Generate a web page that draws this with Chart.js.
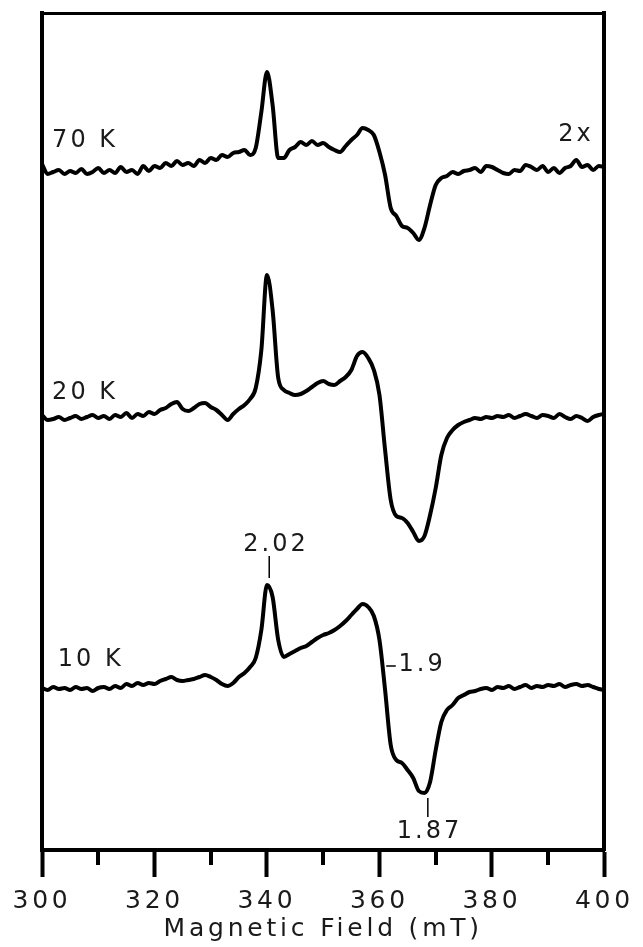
<!DOCTYPE html>
<html>
<head>
<meta charset="utf-8">
<script src="https://cdn.jsdelivr.net/npm/chart.js@4/dist/chart.umd.min.js"></script>
<style>
  html, body { margin: 0; padding: 0; background: #fff; }
  canvas { display: block; }
</style>
</head>
<body>
<canvas id="epr-chart" width="643" height="947"></canvas>
<script>
// Champ magnétique (mT), un point par mT
const champ = Array.from({length: 101}, (_, i) => 300 + i);

// Intensités (u.a., 0 = ligne de base)
const signal70K = [
    6, -4, -2, 0, -4, -1, -3, 1, -4, -2,
    2, -3, 0, -3, 3, -2, 0, -4, 4, -1,
    4, 2, 7, 4, 9, 5, 7, 4, 10, 7,
    12, 10, 15, 13, 17, 18, 20, 15, 22, 58,
    98, 65, 12, 12, 20, 23, 28, 25, 29, 25,
    27, 23, 20, 18, 24, 30, 35, 42, 40, 35,
    18, -5, -38, -46, -56, -58, -63, -70, -58, -35,
    -15, -8, -6, -2, -4, -1, 0, 2, -2, 4,
    3, 0, -3, -4, 0, -1, 5, 3, 0, 4,
    -2, 2, -3, 2, 4, 10, 3, 5, 0, 4,
    3
];
const signal20K = [
    2, -3, -2, 0, -3, -1, 1, -2, 0, 2,
    -1, 1, -2, 2, 0, 4, -1, 3, 1, 5,
    3, 7, 9, 13, 15, 8, 6, 9, 13, 14,
    10, 7, 2, -3, 3, 8, 12, 18, 29, 67,
    142, 107, 39, 27, 24, 22, 23, 26, 30, 34,
    36, 33, 32, 36, 40, 47, 61, 65, 59, 47,
    22, -33, -83, -99, -101, -106, -115, -124, -119, -98,
    -71, -38, -21, -13, -8, -5, -3, -1, -2, 0,
    -1, 1, 0, 2, -1, 1, 3, 1, -1, 2,
    1, -1, 3, 0, -2, 1, -1, -4, 0, 2,
    3
];
const signal10K = [
    0, -2, 1, -1, 0, -2, 1, -1, 0, -3,
    0, 1, -1, 2, 0, 4, 2, 5, 3, 5,
    4, 7, 9, 11, 8, 7, 8, 9, 11, 13,
    11, 8, 4, 2, 5, 11, 15, 21, 30, 58,
    103, 91, 48, 31, 34, 37, 40, 42, 46, 50,
    53, 55, 58, 62, 67, 73, 79, 84, 81, 72,
    48, -2, -57, -72, -75, -82, -90, -103, -105, -94,
    -62, -34, -22, -17, -10, -7, -4, -3, -1, 0,
    -2, 1, 0, 2, -1, 1, 3, 0, 2, 1,
    3, 2, 4, 1, 3, 4, 2, 3, 1, -1,
    -2
];

// Décalage vertical de chaque spectre (u.a.)
const decalages = [680, 433, 162];
const series = [signal70K, signal20K, signal10K];

// Graduations de l'axe
const graduationsMajeures = [300, 320, 340, 360, 380, 400];
const graduationsMineures = [310, 330, 350, 370, 390];

// Étiquettes et repères
const etiquettes = [
    {texte: '70 K', x: 301.8, y: 709, align: 'left'},
    {texte: '20 K', x: 301.8, y: 457, align: 'left'},
    {texte: '10 K', x: 302.8, y: 190, align: 'left'},
    {texte: '2x', x: 391.8, y: 715, align: 'left'},
    {texte: '2.02', x: 341.6, y: 305, align: 'center'},
    {texte: '1.9', x: 363.4, y: 185, align: 'left'},
    {texte: '1.87', x: 368.9, y: 18, align: 'center'}
];
const reperes = [
    {x1: 340.4, y1: 294, x2: 340.4, y2: 272},
    {x1: 361.2, y1: 184, x2: 362.9, y2: 184},
    {x1: 368.6, y1: 52, x2: 368.6, y2: 33}
];

const POLICE = 'DejaVu Sans, sans-serif';
const ESPACEMENT_AXE = '3.8px';
const ESPACEMENT_TEXTE = '3px';

// Espacement des lettres (la police de la figure est élargie)
const espacementPlugin = {
    id: 'espacement',
    beforeLayout(chart) { chart.ctx.letterSpacing = ESPACEMENT_AXE; },
    beforeDraw(chart) { chart.ctx.letterSpacing = ESPACEMENT_AXE; }
};

// Graduations mineures et annotations
const annotationsPlugin = {
    id: 'annotations',
    afterDraw(chart) {
        const ctx = chart.ctx;
        const xs = chart.scales.x;
        const ys = chart.scales.y;
        const bas = chart.chartArea.bottom;
        ctx.save();
        ctx.strokeStyle = '#000';
        ctx.lineWidth = 4;
        graduationsMineures.forEach(v => {
            const px = Math.round(xs.getPixelForValue(v));
            ctx.beginPath();
            ctx.moveTo(px, bas);
            ctx.lineTo(px, bas + 15);
            ctx.stroke();
        });
        ctx.lineWidth = 1.5;
        reperes.forEach(r => {
            ctx.beginPath();
            ctx.moveTo(xs.getPixelForValue(r.x1), ys.getPixelForValue(r.y1));
            ctx.lineTo(xs.getPixelForValue(r.x2), ys.getPixelForValue(r.y2));
            ctx.stroke();
        });
        ctx.letterSpacing = ESPACEMENT_TEXTE;
        ctx.font = '24px ' + POLICE;
        ctx.fillStyle = '#1a1a1a';
        ctx.textBaseline = 'middle';
        etiquettes.forEach(e => {
            ctx.textAlign = e.align;
            ctx.fillText(e.texte, xs.getPixelForValue(e.x), ys.getPixelForValue(e.y));
        });
        ctx.restore();
    }
};

const axeCache = {
    grid: {display: false, drawTicks: false},
    ticks: {display: false},
    border: {display: true, color: '#000', width: 4}
};

const ctx = document.getElementById('epr-chart').getContext('2d');
new Chart(ctx, {
    type: 'line',
    data: {
        labels: champ,
        datasets: series.map((s, i) => ({
            data: s.map((v, j) => ({x: champ[j], y: v + decalages[i]})),
            borderColor: '#000',
            borderWidth: 4,
            pointRadius: 0,
            cubicInterpolationMode: 'monotone',
            borderJoinStyle: 'round',
            fill: false
        }))
    },
    options: {
        responsive: false,
        animation: false,
        layout: {autoPadding: false, padding: {left: 42, right: 37, top: 13, bottom: 3}},
        plugins: {legend: {display: false}, tooltip: {enabled: false}},
        scales: {
            x: {
                type: 'linear',
                position: 'bottom',
                min: 300,
                max: 400,
                afterBuildTicks(scale) {
                    scale.ticks = graduationsMajeures.map(v => ({value: v}));
                },
                afterFit(scale) { scale.height = 94; },
                grid: {
                    display: true,
                    drawOnChartArea: false,
                    drawTicks: true,
                    tickLength: 27,
                    tickWidth: 4,
                    tickColor: '#000'
                },
                border: {display: true, color: '#000', width: 4},
                ticks: {
                    color: '#1a1a1a',
                    padding: 9,
                    maxRotation: 0,
                    font: {family: POLICE, size: 25}
                },
                title: {
                    display: true,
                    text: 'Magnetic Field (mT)',
                    color: '#1a1a1a',
                    padding: {top: 0, bottom: 0},
                    font: {family: POLICE, size: 25}
                }
            },
            x2: Object.assign({type: 'linear', position: 'top', min: 300, max: 400,
                afterFit(scale) { scale.height = 0; }}, axeCache, {border: {display: true, color: '#000', width: 3}}),
            y: Object.assign({type: 'linear', position: 'left', min: 0, max: 837,
                afterFit(scale) { scale.width = 0; }}, axeCache),
            y2: Object.assign({type: 'linear', position: 'right', min: 0, max: 837,
                afterFit(scale) { scale.width = 0; }}, axeCache)
        }
    },
    plugins: [espacementPlugin, annotationsPlugin]
});
</script>
</body>
</html>
